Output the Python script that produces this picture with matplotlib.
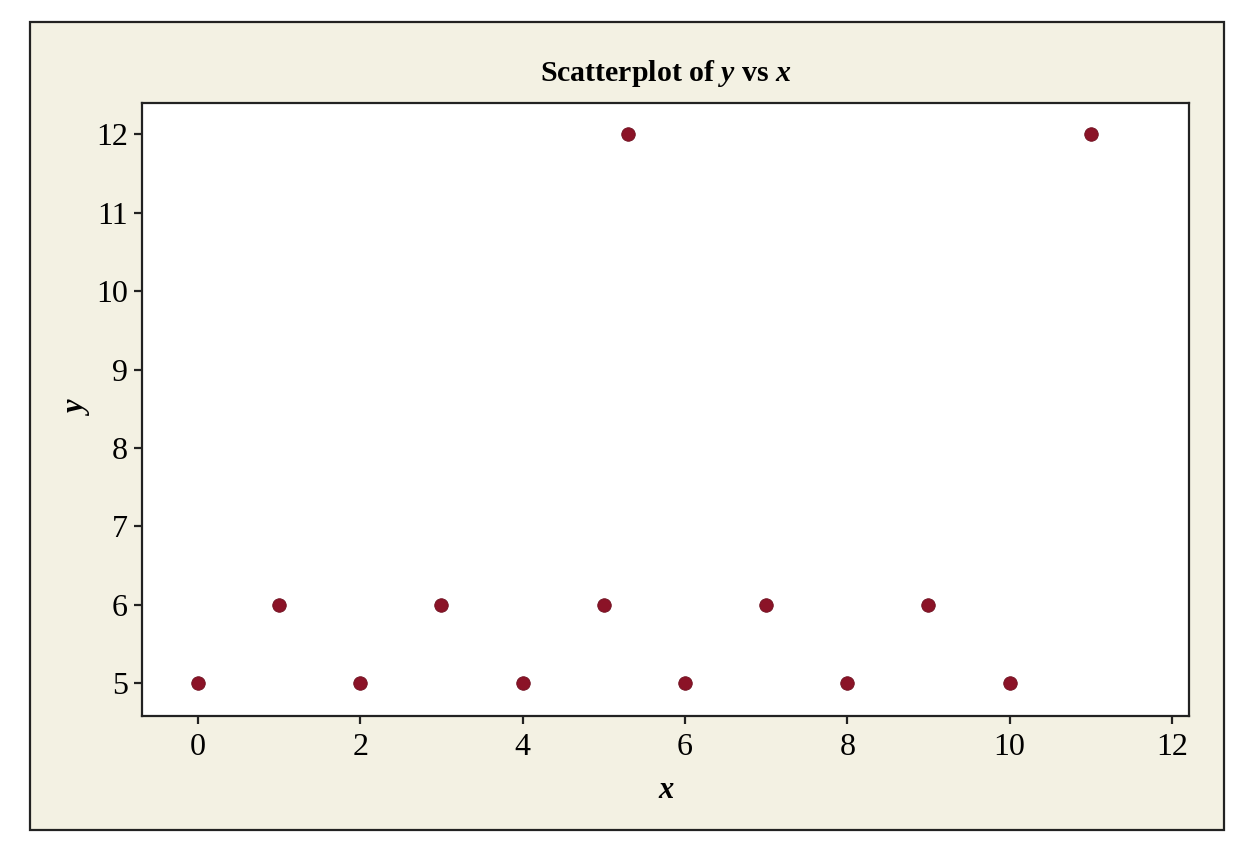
import matplotlib
matplotlib.use("Agg")
import matplotlib.pyplot as plt
from matplotlib.patches import Rectangle

# ---------------------------------------------------------------------------
# Dane
# ---------------------------------------------------------------------------
x_vals = [0, 1, 2, 3, 4, 5, 5.3, 6, 7, 8, 9, 10, 11]
y_vals = [5, 6, 5, 6, 5, 6, 12, 5, 6, 5, 6, 5, 12]
x_ticks = [0, 2, 4, 6, 8, 10, 12]
y_ticks = [5, 6, 7, 8, 9, 10, 11, 12]

BG = "#f3f1e3"
DOT = "#8b1327"

plt.rcParams.update({
    "font.family": ["Liberation Serif", "DejaVu Serif"],
    "mathtext.fontset": "custom",
    "mathtext.rm": "Liberation Serif:bold",
    "mathtext.it": "Liberation Serif:italic:bold",
})

fig = plt.figure(figsize=(12.33, 8.44), dpi=100)
fig.patch.set_facecolor("white")

# ramka z beżowym tłem (pod osiami)
W, H = 1233, 844
fig.patches.append(Rectangle((30 / W, (H - 830) / H), (1224 - 30) / W, (830 - 22) / H,
                             transform=fig.transFigure, facecolor=BG,
                             edgecolor="#222222", linewidth=1.6, zorder=-10))

ax = fig.add_axes([142 / W, 1 - 716 / H, (1189 - 142) / W, (716 - 103) / H])
ax.set_facecolor("white")

ax.scatter(x_vals, y_vals, s=95, color=DOT, edgecolors="#6e0f1f",
           linewidths=0.6, zorder=3)

ax.set_xlim(-0.69, 12.21)
ax.set_ylim(4.58, 12.40)
ax.set_xticks(x_ticks)
ax.set_yticks(y_ticks)

for sp in ax.spines.values():
    sp.set_linewidth(1.6)
    sp.set_color("#222222")

ax.tick_params(axis="both", direction="out", length=6, width=1.6,
               color="#222222", labelsize=23)
ax.tick_params(axis="x", pad=6)
ax.tick_params(axis="y", pad=4)

ax.set_title(r"Scatterplot of $y$ vs $x$", fontsize=21.5, fontweight="bold", pad=16)
ax.set_xlabel("x", fontsize=22, fontstyle="italic", fontweight="bold", labelpad=10)
ax.set_ylabel("y", fontsize=22, fontstyle="italic", fontweight="bold", labelpad=2)

fig.savefig("out.png", dpi=100, facecolor=fig.get_facecolor())
